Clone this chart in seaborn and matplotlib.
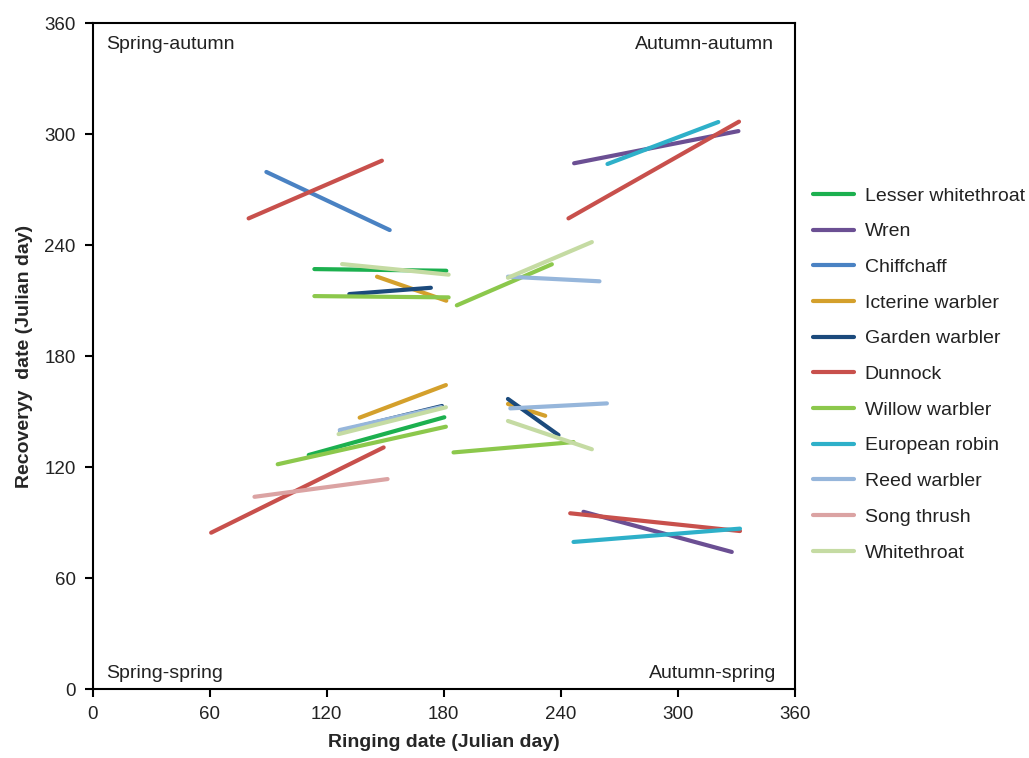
import pandas as pd
import matplotlib
matplotlib.use("Agg")
import matplotlib.pyplot as plt
import seaborn as sns

# Species in legend order and their colours
species = ['Lesser whitethroat', 'Wren', 'Chiffchaff', 'Icterine warbler',
           'Garden warbler', 'Dunnock', 'Willow warbler', 'European robin',
           'Reed warbler', 'Song thrush', 'Whitethroat']
colors = ['#1cb04f', '#6b4f93', '#4a82c3', '#d4a02c', '#1b4a7c', '#c8504c',
          '#8cc84c', '#2eb0c9', '#96b6db', '#dba3a3', '#c5dba3']

# One row per regression segment: ringing day (start/end), recovery day (start/end)
seg_species = ['Lesser whitethroat', 'Lesser whitethroat',
               'Wren', 'Wren',
               'Chiffchaff',
               'Icterine warbler', 'Icterine warbler', 'Icterine warbler',
               'Garden warbler', 'Garden warbler', 'Garden warbler',
               'Dunnock', 'Dunnock', 'Dunnock', 'Dunnock',
               'Willow warbler', 'Willow warbler', 'Willow warbler', 'Willow warbler',
               'European robin', 'European robin',
               'Reed warbler', 'Reed warbler', 'Reed warbler',
               'Song thrush',
               'Whitethroat', 'Whitethroat', 'Whitethroat', 'Whitethroat']
ring_start = [113.7, 110.8,
              246.8, 251.6,
              89.1,
              145.8, 136.9, 212.9,
              131.6, 127.0, 212.9,
              80.0, 60.8, 243.9, 244.8,
              113.7, 186.7, 94.9, 185.0,
              263.9, 246.5,
              212.9, 126.7, 214.1,
              83.0,
              127.9, 212.9, 126.1, 212.9]
ring_end = [181.3, 180.3,
            331.0, 327.6,
            152.3,
            181.3, 181.1, 232.0,
            173.4, 179.1, 238.8,
            148.3, 149.2, 331.3, 331.8,
            182.5, 235.4, 181.1, 246.5,
            320.7, 331.8,
            259.8, 178.7, 263.6,
            151.2,
            182.5, 255.9, 181.1, 255.9]
rec_start = [227.0, 126.5,
             284.2, 95.8,
             279.5,
             222.9, 146.7, 154.1,
             213.5, 139.5, 156.8,
             254.4, 84.5, 254.4, 95.0,
             212.4, 207.4, 121.5, 127.9,
             283.8, 79.5,
             222.9, 140.0, 151.7,
             103.9,
             229.7, 222.3, 137.8, 144.9]
rec_end = [226.1, 146.9,
           301.6, 74.1,
           248.1,
           209.9, 164.3, 147.7,
           216.9, 153.0, 137.3,
           285.6, 130.6, 306.7, 85.4,
           211.7, 229.6, 141.8, 133.5,
           306.5, 86.7,
           220.4, 152.4, 154.4,
           113.5,
           224.0, 241.6, 152.3, 129.6]

quadrant_labels = ['Spring-autumn', 'Autumn-autumn', 'Spring-spring', 'Autumn-spring']

# Build long-form table for seaborn
rows = []
for i, sp in enumerate(seg_species):
    rows.append({'species': sp, 'seg': i, 'ring': ring_start[i], 'rec': rec_start[i]})
    rows.append({'species': sp, 'seg': i, 'ring': ring_end[i], 'rec': rec_end[i]})
df = pd.DataFrame(rows)
df['species'] = pd.Categorical(df['species'], categories=species, ordered=True)
df = df.sort_values(['species', 'seg'])

sns.set_style('ticks')
plt.rcParams['font.family'] = ['Liberation Sans', 'DejaVu Sans']
plt.rcParams['text.color'] = '#222222'

fig = plt.figure(figsize=(10.29, 7.58), dpi=100)
ax = fig.add_axes([0.0899, 0.091, 0.6827, 0.8786])

sns.lineplot(data=df, x='ring', y='rec', hue='species', units='seg',
             estimator=None, palette=dict(zip(species, colors)),
             hue_order=species, linewidth=3, ax=ax, sort=False)

ax.set_xlim(0, 360)
ax.set_ylim(0, 360)
ax.set_xticks(range(0, 361, 60))
ax.set_yticks(range(0, 361, 60))
ax.tick_params(axis='both', labelsize=13.5, length=6, width=1.5,
               direction='out', colors='black', labelcolor='#222222', pad=6)
ax.tick_params(top=False, right=False)
for s in ax.spines.values():
    s.set_linewidth(1.5)
    s.set_color('black')

ax.set_xlabel('Ringing date (Julian day)', fontsize=14, fontweight='bold', labelpad=8)
ax.set_ylabel('Recoveryy  date (Julian day)', fontsize=14, fontweight='bold', labelpad=8)

# Quadrant labels
ax.text(7, 348.5, quadrant_labels[0], fontsize=14, ha='left', va='center')
ax.text(349, 348.5, quadrant_labels[1], fontsize=14, ha='right', va='center')
ax.text(7, 8.6, quadrant_labels[2], fontsize=14, ha='left', va='center')
ax.text(350.5, 8.6, quadrant_labels[3], fontsize=14, ha='right', va='center')

ax.legend(loc='upper left', bbox_to_anchor=(813 / 1029, 1 - 187 / 758),
          bbox_transform=fig.transFigure, frameon=False, fontsize=14,
          handlelength=2.1, handletextpad=0.55, labelspacing=0.93,
          borderpad=0, borderaxespad=0, title=None)

fig.savefig('out.png', dpi=100)
